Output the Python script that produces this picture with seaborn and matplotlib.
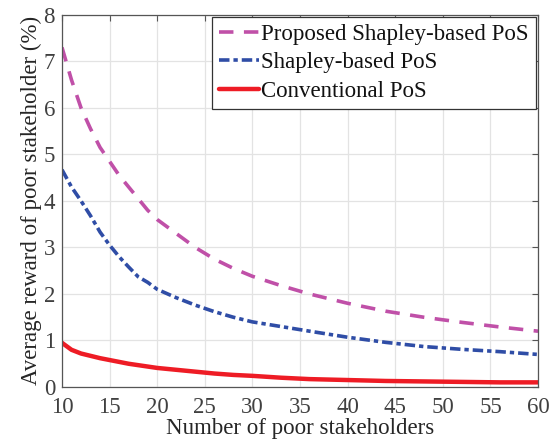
import numpy as np
import pandas as pd
import matplotlib
matplotlib.use('Agg')
import matplotlib.pyplot as plt
import seaborn as sns

n_poor = [10, 11, 12, 13, 14, 15, 16, 17, 18, 19, 20, 22, 24, 26, 28, 30,
          33, 36, 40, 44, 48, 52, 56, 60]

proposed_shapley = [7.30, 6.60, 6.00, 5.55, 5.15, 4.85, 4.55, 4.30, 4.05, 3.80,
                    3.60, 3.30, 3.00, 2.75, 2.55, 2.38, 2.18, 2.00, 1.80, 1.63,
                    1.50, 1.39, 1.29, 1.20]
shapley = [4.67, 4.30, 4.00, 3.68, 3.33, 3.05, 2.80, 2.58, 2.37, 2.25,
           2.10, 1.92, 1.76, 1.62, 1.50, 1.40, 1.30, 1.20, 1.07, 0.96,
           0.87, 0.81, 0.76, 0.70]
conventional = [0.95, 0.80, 0.72, 0.67, 0.62, 0.58, 0.54, 0.50, 0.47, 0.44,
                0.41, 0.37, 0.33, 0.29, 0.26, 0.24, 0.20, 0.17, 0.15, 0.13,
                0.12, 0.11, 0.10, 0.10]

labels = ['Proposed Shapley-based PoS', 'Shapley-based PoS', 'Conventional PoS']
colors = ['#C050A8', '#2F4DA6', '#EE1C25']
x_ticks = list(range(10, 61, 5))
y_ticks = list(range(0, 9))

sns.set_style('whitegrid')
plt.rcParams['font.family'] = ['Liberation Serif', 'DejaVu Serif']

fig = plt.figure(figsize=(5.51, 4.42), dpi=100)
ax = fig.add_axes([0.1125, 0.1244, 0.864, 0.842])

df = pd.DataFrame({'n': n_poor, 'p': proposed_shapley,
                   's': shapley, 'c': conventional})

lw = 2.6
sns.lineplot(data=df, x='n', y='p', ax=ax, color=colors[0], lw=lw,
             label=labels[0], dashes=False)
sns.lineplot(data=df, x='n', y='s', ax=ax, color=colors[1], lw=lw,
             label=labels[1], dashes=False)
sns.lineplot(data=df, x='n', y='c', ax=ax, color=colors[2], lw=lw + 0.6,
             label=labels[2], dashes=False)
lines = ax.get_lines()
lines[0].set_dashes((4.0, 2.9))
lines[1].set_dashes((2.9, 1.1, 1.2, 1.1))

ax.set_xlim(10, 60)
ax.set_ylim(0, 8)
ax.set_xticks(x_ticks)
ax.set_yticks(y_ticks)
ax.grid(True, color='#E3E3E3', lw=0.9)
for s in ax.spines.values():
    s.set_color('#555555')
    s.set_linewidth(0.9)
ax.tick_params(direction='in', top=True, right=True, length=4,
               color='#555555', labelcolor='#404040', labelsize=16.5)
ax.tick_params(axis='x', pad=7)
ax.tick_params(axis='y', pad=5)
ax.set_xlabel('Number of poor stakeholders', fontsize=16.5, color='#262626',
              labelpad=0)
ax.set_ylabel('Average reward of poor stakeholder (%)', fontsize=16.5,
              color='#262626', labelpad=1)

leg = ax.legend(loc='upper right', fontsize=16.5, frameon=True, fancybox=False,
                edgecolor='#333333', framealpha=1, borderaxespad=0.1,
                handlelength=1.75, handletextpad=0.1, borderpad=0.3,
                labelspacing=0.32)
leg.get_frame().set_linewidth(0.9)
for t in leg.get_texts():
    t.set_color('#111111')

fig.savefig('out.png', dpi=100)
plt.close(fig)
